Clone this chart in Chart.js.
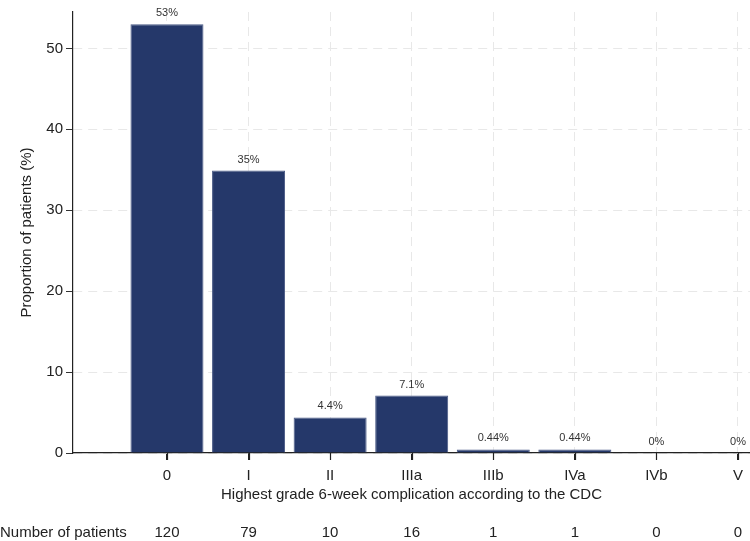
<!DOCTYPE html>
<html>
<head>
<meta charset="utf-8">
<script src="https://cdn.jsdelivr.net/npm/chart.js@4"></script>
<style>
  body { margin: 0; background: #fff; }
  canvas { display: block; }
</style>
</head>
<body>
<canvas id="chart" width="750" height="541"></canvas>
<script>
// complication grades (Clavien-Dindo)
var grades = ['0', 'I', 'II', 'IIIa', 'IIIb', 'IVa', 'IVb', 'V'];
var proportions = [53.0, 34.9, 4.4, 7.1, 0.44, 0.44, 0, 0];
var patients = [120, 79, 10, 16, 1, 1, 0, 0];
var yTicks = [0, 10, 20, 30, 40, 50];

var FONT = '"Liberation Sans", Arial, Helvetica, sans-serif';
var barColor = '#25386a';

// value labels on top of bars + x tick marks + axis titles + patient count row
var annotate = {
    id: 'annotate',
    afterDraw: function(chart) {
        var ctx = chart.ctx;
        var xs = chart.scales.x, ys = chart.scales.y;
        var area = chart.chartArea;
        ctx.save();

        ctx.strokeStyle = '#222';
        ctx.lineWidth = 1.2;
        grades.forEach(function(g, i) {
            var px = Math.round(xs.getPixelForValue(i)) + 0.5;
            ctx.beginPath();
            ctx.moveTo(px, area.bottom);
            ctx.lineTo(px, area.bottom + 7);
            ctx.stroke();
        });

        ctx.fillStyle = '#333';
        ctx.font = '11px ' + FONT;
        ctx.textAlign = 'center';
        ctx.textBaseline = 'middle';
        chart.getDatasetMeta(0).data.forEach(function(bar, i) {
            var v = proportions[i];
            ctx.fillText(Number(v.toPrecision(2)) + '%', bar.x, ys.getPixelForValue(v) - 11);
        });

        ctx.fillStyle = '#222';
        ctx.font = '15px ' + FONT;
        ctx.fillText('Highest grade 6-week complication according to the CDC', (area.left + area.right) / 2, 495);

        ctx.textAlign = 'left';
        ctx.fillText('Number of patients', 0, 533);
        ctx.textAlign = 'center';
        patients.forEach(function(n, i) {
            ctx.fillText(String(n), xs.getPixelForValue(i), 533);
        });

        ctx.translate(27, (area.top + area.bottom) / 2);
        ctx.rotate(-Math.PI / 2);
        ctx.fillText('Proportion of patients (%)', 0, 0);
        ctx.restore();
    }
};

var ctx = document.getElementById('chart').getContext('2d');
new Chart(ctx, {
    type: 'bar',
    data: {
        datasets: [{
            data: proportions.map(function(v, i) { return {x: i, y: v}; }),
            backgroundColor: barColor,
            borderColor: '#4a5a86',
            borderWidth: function(c) { return c.raw && c.raw.y > 0 ? 1 : 0; },
            borderSkipped: 'bottom',
            barPercentage: 0.895,
            categoryPercentage: 1
        }]
    },
    options: {
        responsive: false,
        animation: false,
        layout: { padding: { top: 3, right: 0, left: 0, bottom: 0 } },
        plugins: {
            legend: { display: false },
            tooltip: { enabled: false }
        },
        scales: {
            x: {
                type: 'linear',
                offset: false,
                min: -1.152,
                max: 7.147,
                afterBuildTicks: function(scale) {
                    scale.ticks = grades.map(function(g, i) { return {value: i}; });
                },
                afterFit: function(scale) { scale.height = 88; },
                ticks: {
                    callback: function(v) { return grades[v]; },
                    font: { family: FONT, size: 15 },
                    color: '#222',
                    padding: 7,
                    maxRotation: 0,
                    autoSkip: false
                },
                grid: {
                    offset: false,
                    color: '#e8e8e8',
                    lineWidth: 1,
                    tickLength: 7,
                    tickColor: '#222',
                    tickBorderDash: []
                },
                border: { display: true, color: '#222', width: 1.2, dash: [9, 6] }
            },
            y: {
                min: 0,
                max: 54.5,
                afterBuildTicks: function(scale) {
                    scale.ticks = yTicks.map(function(t) { return {value: t}; });
                },
                afterFit: function(scale) { scale.width = 73; },
                ticks: {
                    font: { family: FONT, size: 15 },
                    color: '#222',
                    padding: 3
                },
                grid: {
                    color: '#e8e8e8',
                    lineWidth: 1,
                    tickLength: 7,
                    tickColor: '#333',
                    tickBorderDash: []
                },
                border: { display: true, color: '#222', width: 1.2, dash: [9, 6] }
            }
        }
    },
    plugins: [annotate]
});
</script>
</body>
</html>
